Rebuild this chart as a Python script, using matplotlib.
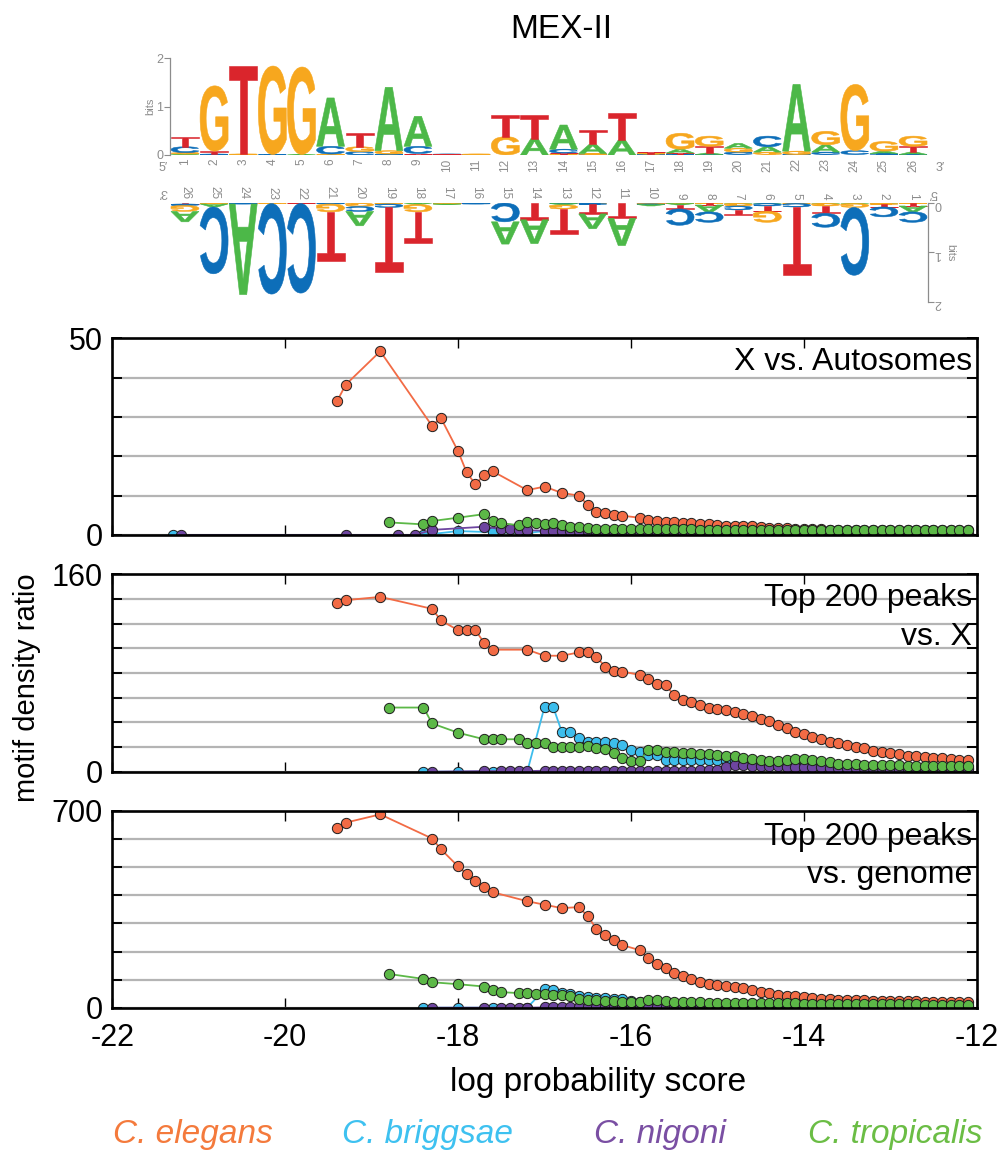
import numpy as np
import matplotlib
matplotlib.use('Agg')
import matplotlib.pyplot as plt
import matplotlib.transforms as mtransforms
from matplotlib.textpath import TextPath
from matplotlib.patches import PathPatch
from matplotlib.font_manager import FontProperties

n = np.nan

NARROW = ['Liberation Sans Narrow', 'Liberation Sans', 'DejaVu Sans']
REGULAR = ['Liberation Sans', 'DejaVu Sans']
plt.rcParams['font.family'] = NARROW
plt.rcParams['axes.unicode_minus'] = False

# ---------------- motif logo (bits per position, forward strand) ----------------
positions = list(range(1, 27))
bits_A = [.02, 0, .01, 0, .01, 1.0, 0, 1.31, .62, .01, 0, 0, .34,
          .50, .19, .31, .01, .08, .03, .10, .11, 1.38, .15, 0, .05, .05]
bits_C = [.12, .02, 0, .01, 0, .16, .07, .02, .15, .01, .01, 0, 0,
          .08, .01, 0, .01, .01, .01, .05, .22, .01, .05, .08, .02, .01]
bits_G = [.03, 1.35, .01, 1.83, 1.81, .02, .10, .07, 0, 0, .01, .38, 0,
          .01, .02, 0, .01, .33, .21, .08, .05, .07, .28, 1.37, .20, .21]
bits_T = [.21, .06, 1.83, 0, 0, 0, .29, 0, .03, .01, 0, .45, .48,
          .03, .30, .55, .03, .03, .14, .01, .01, 0, .01, .01, .01, .12]

BASE_COLORS = {'A': '#4cb848', 'C': '#0d6eb9', 'G': '#f7a71e', 'T': '#da252c'}
COMPLEMENT = {'A': 'T', 'C': 'G', 'G': 'C', 'T': 'A'}
LOGO_FP = FontProperties(family='Liberation Sans', weight='bold')
GLYPHS = {b: TextPath((0, 0), b, size=1, prop=LOGO_FP) for b in 'ACGT'}
LOGO_GRAY = '#8c8c8c'

# ---------------- motif density ratio vs. log probability score ----------------
score = [-21.3, -21.2,
         -19.4, -19.3, -19.2, -19.1, -19.0, -18.9, -18.8, -18.7, -18.6, -18.5,
         -18.4, -18.3, -18.2, -18.1, -18.0, -17.9, -17.8, -17.7, -17.6, -17.5,
         -17.4, -17.3, -17.2, -17.1, -17.0, -16.9, -16.8, -16.7, -16.6, -16.5,
         -16.4, -16.3, -16.2, -16.1, -16.0,
         -15.9, -15.8, -15.7, -15.6, -15.5, -15.4, -15.3, -15.2, -15.1, -15.0,
         -14.9, -14.8, -14.7, -14.6, -14.5, -14.4, -14.3, -14.2, -14.1, -14.0,
         -13.9, -13.8, -13.7, -13.6, -13.5, -13.4, -13.3, -13.2, -13.1, -13.0,
         -12.9, -12.8, -12.7, -12.6, -12.5, -12.4, -12.3, -12.2, -12.1]

# X vs. Autosomes
elegans_xa = [n, n,
              34, 38.2, n, n, n, 46.7, n, n, n, n,
              n, 27.7, 29.8, n, 21.3, 15.9, 12.9, 15.2, 16.2, n,
              n, n, 11.4, n, 12.3, n, 10.7, n, 10.0, 7.6,
              5.9, 5.6, 5.2, 4.9, n,
              4.4, 3.8, 3.6, 3.4, 3.2, 3.1, 3.0, 2.8, 2.7, 2.5,
              2.4, 2.3, 2.3, 2.2, 2.1, 1.9, 1.8, 1.7, 1.6, 1.5,
              1.45, 1.4, 1.35, 1.35, 1.3, 1.3, 1.3, 1.25, 1.25, 1.25,
              1.2, 1.2, 1.2, 1.2, 1.2, 1.15, 1.15, 1.15, 1.15]
briggsae_xa = [0, n,
               n, n, n, n, n, n, n, n, n, n,
               0, n, n, n, 1.0, n, n, n, 0.7, n,
               n, n, 0.5, n, 1.0, 1.0, 0.9, 0.9, 0.8, 0.8,
               0.8, 0.8, 0.7, 0.7, 0.7,
               0.7, 0.6, 0.6, 0.6, 0.6, 0.5, 0.5, 0.5, 0.5, 0.5,
               0.5, 0.5, 0.4, 0.4, 0.4, 0.4, 0.4, 0.4, 0.4, 0.4,
               0.4, 0.3, 0.3, 0.3, 0.3, 0.3, 0.3, 0.3, 0.3, 0.3,
               0.3, 0.3, 0.3, 0.3, 0.3, 0.3, 0.3, 0.3, 0.3]
nigoni_xa = [n, 0,
             n, 0, n, n, n, n, n, 0, n, 0,
             n, 1.3, n, n, n, n, n, 2.1, n, 1.5,
             1.4, 1.3, 1.2, n, 1.1, 1.0, 1.0, 0.9, 0.9, 0.9,
             0.8, 0.8, 0.8, 0.8, 0.8,
             0.7, 0.7, 0.7, 0.7, 0.7, 0.6, 0.6, 0.6, 0.6, 0.6,
             0.6, 0.6, 0.6, 0.5, 0.5, 0.5, 0.5, 0.5, 0.5, 0.5,
             0.5, 0.5, 0.5, 0.4, 0.4, 0.4, 0.4, 0.4, 0.4, 0.4,
             0.4, 0.4, 0.4, 0.4, 0.4, 0.4, 0.4, 0.4, 0.4]
tropicalis_xa = [n, n,
                 n, n, n, n, n, n, 3.2, n, n, n,
                 2.7, 3.55, n, n, 4.4, n, n, 5.3, 3.55, 3.0,
                 n, 2.5, 3.3, 3.0, 2.9, 3.0, 2.5, 2.1, 2.0, 1.7,
                 1.6, 1.5, 1.5, 1.45, 1.4,
                 1.5, 1.55, 1.5, 1.45, 1.4, 1.4, 1.4, 1.35, 1.35, 1.35,
                 1.3, 1.3, 1.35, 1.3, 1.3, 1.3, 1.25, 1.3, 1.3, 1.3,
                 1.3, 1.25, 1.3, 1.3, 1.25, 1.3, 1.3, 1.3, 1.25, 1.3,
                 1.3, 1.25, 1.3, 1.3, 1.25, 1.3, 1.3, 1.25, 1.3]

# Top 200 peaks vs. X
elegans_px = [n, n,
              136.4, 139, n, n, n, 141.7, n, n, n, n,
              n, 132, 122.7, n, 114.7, 114.7, 114.7, 104.7, 98.9, n,
              n, n, 98.9, n, 94, n, 94, n, 96.7, 97.3,
              93.2, 85.2, 81.4, 81.2, n,
              78.5, 75.3, 71.3, 70.5, 61.9, 57.9, 56.5, 53.9, 52, 50.6,
              49.8, 48.5, 46.6, 45.3, 43.1, 41.3, 37.8, 35.1, 32.4, 30.5,
              28.4, 26.5, 24.4, 23.1, 21.7, 20.4, 19.0, 17.1, 15.8, 15.0,
              14.2, 13.1, 12.9, 12.3, 11.5, 11.0, 10.5, 9.6, 9.6]
briggsae_px = [n, n,
               n, n, n, n, n, n, n, n, n, n,
               0, n, n, n, 0, n, n, n, 0, n,
               n, n, 0, n, 52.5, 52.5, 32.4, 32.4, 27, 24.4,
               24.4, 24.4, 23, 21.7, 17.7,
               16.3, 13.7, 13.7, 9.6, 9.6, 9.6, 9.6, 9.6, 9.6, 9.6,
               9.6, 8, 7, 6.5, 6, 5.5, 5.2, 5, 4.8, 4.6,
               4.4, 4.2, 4, 3.9, 3.8, 3.7, 3.6, 3.5, 3.4, 3.3,
               3.2, 3.1, 3.0, 3.0, 2.9, 2.9, 2.8, 2.8, 2.7]
nigoni_px = [n, n,
             n, n, n, n, n, n, n, n, n, n,
             n, 0, n, n, n, n, n, 0.5, n, 0.5,
             0.5, 0.5, 0.5, n, 0.8, 0.8, 0.8, 0.8, 0.8, 0.8,
             0.8, 0.8, 0.8, 0.8, 0.8,
             0.8, 0.8, 0.8, 0.8, 0.8, 0.8, 0.9, 1.0, 1.0, 1.0,
             4.0, 5.5, 5.5, 5.0, 5.0, 4.5, 4.5, 4.0, 4.0, 3.8,
             3.6, 3.5, 3.3, 3.2, 3.0, 3.0, 2.8, 2.7, 2.6, 2.5,
             2.4, 2.3, 2.2, 2.2, 2.1, 2.0, 2.0, 1.9, 1.9]
tropicalis_px = [n, n,
                 n, n, n, n, n, n, 52, n, n, n,
                 52, 39.1, n, n, 31.6, n, n, 26.3, 26.3, 26.3,
                 n, 26.3, 23.5, 23.5, 23.5, 20.4, 20.4, 20.4, 20.4, 20.9,
                 19.0, 18.5, 15, 11.2, 8.6,
                 8.6, 17.7, 17.7, 16.3, 15.6, 15.0, 15.0, 14.5, 14.5, 13.7,
                 13.0, 12.5, 11.2, 10.4, 9.1, 8.6, 8.6, 9.5, 10.0, 10.0,
                 9.5, 8.5, 7.5, 6.5, 6.2, 6.0, 5.8, 5.6, 5.5, 5.3,
                 5.2, 5.0, 4.9, 4.8, 4.7, 4.6, 4.5, 4.4, 4.3]

# Top 200 peaks vs. genome
elegans_pg = [n, n,
              638.8, 658.6, n, n, n, 688, n, n, n, n,
              n, 602, 564.5, n, 503, 476, 452.5, 431, 411, n,
              n, n, 379, n, 366.5, n, 354.5, n, 358, 325,
              281.6, 258, 240, 222.7, n,
              205, 175.6, 155.5, 140, 122.6, 113, 102.5, 90.6, 83.6, 81.3,
              78.9, 75.4, 69.6, 63.6, 57.6, 51.9, 46, 42.4, 40, 37.8,
              34.3, 31.8, 30.6, 29, 28, 27, 26, 25, 24.5, 24,
              23.5, 23, 22.5, 22, 21.5, 21, 20.5, 20, 19.5]
briggsae_pg = [n, n,
               n, n, n, n, n, n, n, n, n, n,
               0, n, n, n, 0, n, n, n, 0, n,
               n, n, 0, n, 65, 62, 52, 50, 42, 38,
               36, 35, 32, 30, 25,
               22, 18, 17, 14, 13, 13, 13, 12, 12, 12,
               11, 10, 9, 8.5, 8, 7.5, 7, 7, 6.5, 6.5,
               6, 6, 5.5, 5.5, 5, 5, 5, 4.5, 4.5, 4.5,
               4, 4, 4, 4, 3.5, 3.5, 3.5, 3.5, 3]
nigoni_pg = [n, n,
             n, n, n, n, n, n, n, n, n, n,
             n, 0, n, n, n, n, n, 0, n, 0,
             0, 0, 0, n, 1, 1, 1, 1, 1, 1,
             1, 1, 1, 1, 1,
             1, 1, 1, 1, 1.5, 1.5, 1.5, 2, 2, 2,
             3, 3.5, 3.5, 3.5, 3, 3, 3, 3, 3, 3,
             2.5, 2.5, 2.5, 2.5, 2.5, 2.5, 2, 2, 2, 2,
             2, 2, 2, 2, 2, 2, 2, 2, 2]
tropicalis_pg = [n, n,
                 n, n, n, n, n, n, 120, n, n, n,
                 102.5, 90.6, n, n, 83.6, n, n, 75.4, 63.6, 55.4,
                 n, 52, 51, 50, 47, 46, 43.6, 40, 32, 28.3,
                 26, 25, 24.7, 22, 20,
                 20, 28, 28, 24.7, 22, 20, 19.5, 19, 18.5, 18,
                 17.5, 17, 16.5, 16, 15.5, 15.5, 15, 15, 15, 14.5,
                 14.5, 14, 14, 13.5, 13.5, 13, 13, 12.5, 12.5, 12,
                 12, 11.5, 11.5, 11, 11, 11, 10.5, 10.5, 10]

species = ['C. elegans', 'C. briggsae', 'C. nigoni', 'C. tropicalis']
colors = {'C. elegans': '#f26b45', 'C. briggsae': '#3dbdec',
          'C. nigoni': '#6e45a0', 'C. tropicalis': '#5cb847'}
label_colors = {'C. elegans': '#f47a3c', 'C. briggsae': '#3ec1f0',
                'C. nigoni': '#7a4fa3', 'C. tropicalis': '#6bbd45'}

panels = [
    {'data': {'C. elegans': elegans_xa, 'C. briggsae': briggsae_xa,
              'C. nigoni': nigoni_xa, 'C. tropicalis': tropicalis_xa},
     'ymax': 50, 'step': 10, 'label': ['X vs. Autosomes']},
    {'data': {'C. elegans': elegans_px, 'C. briggsae': briggsae_px,
              'C. nigoni': nigoni_px, 'C. tropicalis': tropicalis_px},
     'ymax': 160, 'step': 20, 'label': ['Top 200 peaks', 'vs. X']},
    {'data': {'C. elegans': elegans_pg, 'C. briggsae': briggsae_pg,
              'C. nigoni': nigoni_pg, 'C. tropicalis': tropicalis_pg},
     'ymax': 700, 'step': 100, 'label': ['Top 200 peaks', 'vs. genome']},
]
for p in panels:
    for sp in species:
        assert len(p['data'][sp]) == len(score), (p['label'], sp)


def draw_letter(ax, base, x, y0, h, width=0.96):
    path = GLYPHS[base]
    ext = path.get_extents()
    t = (mtransforms.Affine2D()
         .translate(-ext.x0, -ext.y0)
         .scale(width / ext.width, h / ext.height)
         .translate(x - width / 2, y0))
    ax.add_patch(PathPatch(t.transform_path(path), fc=BASE_COLORS[base],
                           ec=BASE_COLORS[base], lw=0.4))


def draw_logo(ax, columns):
    for pos, col in zip(positions, columns):
        y0 = 0.0
        # smallest letters at the base, tallest on top
        for base, h in sorted(col.items(), key=lambda kv: kv[1]):
            if h <= 0:
                continue
            draw_letter(ax, base, pos, y0, h)
            y0 += h


fwd_cols = [{'A': a, 'C': c, 'G': g, 'T': t}
            for a, c, g, t in zip(bits_A, bits_C, bits_G, bits_T)]
# reverse complement: column p holds the complement of forward column 27 - p
rc_cols = [{COMPLEMENT[b]: h for b, h in col.items()} for col in fwd_cols[::-1]]

W, H = 1004, 1153
fig = plt.figure(figsize=(W / 100, H / 100), dpi=100)


def fig_rect(left, top, right, bottom):
    return [left / W, 1 - bottom / H, (right - left) / W, (bottom - top) / H]


# forward logo
ax_f = fig.add_axes(fig_rect(170.4, 58.3, 927.6, 155))
draw_logo(ax_f, fwd_cols)
ax_f.set_xlim(0.5, 26.5)
ax_f.set_ylim(0, 2)
for s in ['top', 'right', 'bottom']:
    ax_f.spines[s].set_visible(False)
ax_f.spines['left'].set_color(LOGO_GRAY)
ax_f.spines['left'].set_linewidth(0.9)
ax_f.set_xticks([])
ax_f.set_yticks([0, 1, 2])
ax_f.tick_params(axis='y', colors=LOGO_GRAY, labelsize=9, length=4, width=0.8, pad=1)
ax_f.set_ylabel('bits', fontsize=8, color=LOGO_GRAY, labelpad=1, family=REGULAR)
for p in positions:
    ax_f.text(p, -0.07, str(p), rotation=90, ha='center', va='top',
              fontsize=8.5, color=LOGO_GRAY, family=REGULAR)
ax_f.text(0.25, -0.27, '5\u2032', ha='center', va='center', fontsize=9,
          color=LOGO_GRAY, family=REGULAR)
ax_f.text(26.93, -0.27, '3\u2032', ha='center', va='center', fontsize=9,
          color=LOGO_GRAY, family=REGULAR)

# reverse-complement logo, turned half a revolution under the forward one
ax_r = fig.add_axes(fig_rect(170.4, 203, 927.6, 302))
draw_logo(ax_r, rc_cols)
ax_r.set_xlim(26.5, 0.5)
ax_r.set_ylim(2, 0)
for s in ['top', 'left', 'bottom']:
    ax_r.spines[s].set_visible(False)
ax_r.spines['right'].set_color(LOGO_GRAY)
ax_r.spines['right'].set_linewidth(0.9)
ax_r.set_xticks([])
ax_r.set_yticks([0, 1, 2])
ax_r.yaxis.tick_right()
ax_r.tick_params(axis='y', colors=LOGO_GRAY, labelsize=9, length=4, width=0.8,
                 pad=1, labelrotation=180)
ax_r.yaxis.set_label_position('right')
ax_r.set_ylabel('bits', fontsize=8, color=LOGO_GRAY, rotation=270, labelpad=10,
                family=REGULAR)
for p in positions:
    ax_r.text(p, -0.07, str(p), rotation=270, ha='center', va='bottom',
              fontsize=8.5, color=LOGO_GRAY, family=REGULAR)
ax_r.text(26.75, -0.22, '3\u2032', ha='center', va='center', fontsize=9,
          color=LOGO_GRAY, rotation=180, family=REGULAR)
ax_r.text(0.31, -0.2, '5\u2032', ha='center', va='center', fontsize=9,
          color=LOGO_GRAY, rotation=180, family=REGULAR)

fig.text(561 / W, 1 - 30 / H, 'MEX-II', ha='center', va='center', fontsize=24,
         family=REGULAR)

# density ratio panels
frames = [(338.3, 535), (574.3, 771.7), (811, 1007.7)]
label_base = [[370], [605.7, 645], [845, 882.7]]
order = ['C. briggsae', 'C. nigoni', 'C. elegans', 'C. tropicalis']
x = np.array(score)
for i, (panel, (top, bottom)) in enumerate(zip(panels, frames)):
    ax = fig.add_axes(fig_rect(112.3, top, 976.7, bottom))
    for z, sp in enumerate(order):
        y = np.array(panel['data'][sp], dtype=float)
        m = ~np.isnan(y)
        ax.plot(x[m], y[m], '-o', color=colors[sp], lw=1.3, ms=7.4,
                mfc=colors[sp], mec='#1e1e1e', mew=0.7, zorder=3 + z)
    ax.set_xlim(-22, -12)
    ax.set_ylim(0, panel['ymax'])
    yt = list(range(0, panel['ymax'] + 1, panel['step']))
    ax.set_yticks(yt)
    ax.set_yticklabels([str(v) if v in (0, panel['ymax']) else '' for v in yt])
    ax.set_xticks([-22, -20, -18, -16, -14, -12])
    ax.yaxis.grid(True, color='#b4b4b4', lw=1.6, zorder=1)
    ax.set_axisbelow(True)
    ax.tick_params(axis='y', direction='in', length=7, width=1.4, left=True,
                   right=True, labelsize=22, pad=7)
    ax.tick_params(axis='x', direction='in', length=7, width=1.0, top=True,
                   bottom=True, labelsize=22, pad=11,
                   labelbottom=(i == len(panels) - 1))
    for s in ax.spines.values():
        s.set_linewidth(1.9)
        s.set_zorder(10)
    for txt, yb in zip(panel['label'], label_base[i]):
        ax.text(0.9946, (bottom - yb) / (bottom - top), txt, transform=ax.transAxes,
                ha='right', va='baseline', fontsize=23, family=REGULAR, zorder=12)

fig.text(27 / W, 1 - 688 / H, 'motif density ratio', rotation=90, ha='center',
         va='center', fontsize=21, family=REGULAR)
fig.text(598 / W, 1 - 1083 / H, 'log probability score', ha='center',
         va='center', fontsize=24)

legend_x = [193, 428, 660, 895]
for sp, lx in zip(species, legend_x):
    fig.text(lx / W, 1 - 1135 / H, sp, ha='center', va='center', fontsize=24,
             style='italic', color=label_colors[sp])

fig.savefig('out.png', dpi=100)
